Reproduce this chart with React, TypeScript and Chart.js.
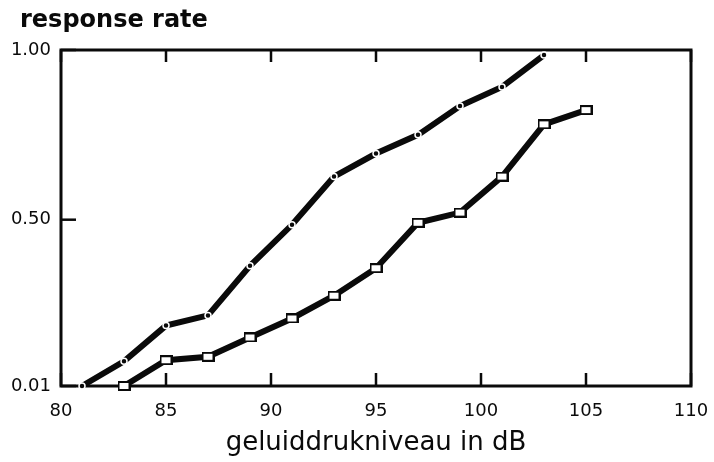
import React, { useEffect, useRef } from "react";
import { Chart, registerables } from "chart.js";

Chart.register(...registerables);

// Series 1 (small dot markers)
const levels1 = [81, 83, 85, 87, 89, 91, 93, 95, 97, 99, 101, 103];
const rates1 = [0.01, 0.083, 0.188, 0.218, 0.364, 0.485, 0.627, 0.695, 0.75, 0.835, 0.891, 0.985];
// Series 2 (open square markers)
const levels2 = [83, 85, 87, 89, 91, 93, 95, 97, 99, 101, 103, 105];
const rates2 = [0.01, 0.086, 0.096, 0.153, 0.209, 0.276, 0.357, 0.491, 0.521, 0.627, 0.781, 0.823];

const xMin = 80;
const xMax = 110;
const xStep = 5;
const yTickValues = [0.01, 0.5, 1.0];
const yTitle = "response rate";
const xTitle = "geluiddrukniveau in dB";

const INK = "#0a0a0a";

function makeSquare(): HTMLCanvasElement {
  const c = document.createElement("canvas");
  c.width = 13;
  c.height = 10;
  const g = c.getContext("2d")!;
  g.fillStyle = INK;
  g.fillRect(0, 0, 13, 10);
  g.fillStyle = "#ffffff";
  g.fillRect(2, 2, 9, 6);
  return c;
}

const framePlugin = {
  id: "frameTicks",
  beforeDatasetsDraw(chart: any) {
    const { ctx, chartArea } = chart;
    const { left, right, top, bottom } = chartArea;
    const xs = chart.scales.x;
    const ys = chart.scales.y;
    ctx.save();
    ctx.strokeStyle = INK;
    ctx.lineWidth = 3;
    ctx.lineCap = "square";
    ctx.strokeRect(left, top, right - left, bottom - top);
    ctx.lineWidth = 2.5;
    ctx.lineCap = "butt";
    xs.ticks.forEach((t: any) => {
      const px = xs.getPixelForValue(t.value);
      ctx.beginPath();
      ctx.moveTo(px, bottom);
      ctx.lineTo(px, bottom - 13);
      ctx.moveTo(px, top);
      ctx.lineTo(px, top + 12);
      ctx.stroke();
    });
    ys.ticks.forEach((t: any) => {
      const py = ys.getPixelForValue(t.value);
      ctx.beginPath();
      ctx.moveTo(left, py);
      ctx.lineTo(left + 15, py);
      ctx.stroke();
    });
    ctx.restore();
  },
};

const yTitlePlugin = {
  id: "yTopTitle",
  afterDraw(chart: any, _args: any, opts: any) {
    const { ctx } = chart;
    ctx.save();
    ctx.fillStyle = INK;
    ctx.font = "bold 24px 'DejaVu Sans'";
    ctx.textAlign = "left";
    ctx.textBaseline = "alphabetic";
    ctx.fillText(opts.text, 20, 27);
    ctx.restore();
  },
};

export default function App() {
  const ref = useRef<HTMLCanvasElement | null>(null);

  useEffect(() => {
    if (!ref.current) return;
    const square = makeSquare();
    const chart = new Chart(ref.current, {
      type: "line",
      data: {
        datasets: [
          {
            label: "A",
            data: levels1.map((x, i) => ({ x, y: rates1[i] })),
            borderColor: INK,
            borderWidth: 6,
            tension: 0,
            pointRadius: 3,
            pointBackgroundColor: INK,
            pointBorderColor: "#ffffff",
            pointBorderWidth: 1.5,
            clip: false as any,
          },
          {
            label: "B",
            data: levels2.map((x, i) => ({ x, y: rates2[i] })),
            borderColor: INK,
            borderWidth: 6,
            tension: 0,
            pointStyle: square as any,
            pointRadius: 6,
            clip: false as any,
          },
        ],
      },
      options: {
        responsive: false,
        animation: false,
        layout: { padding: { left: 0, right: 23, top: 50, bottom: 0 } },
        plugins: {
          legend: { display: false },
          tooltip: { enabled: false },
          title: { display: false },
          yTopTitle: { text: yTitle },
        } as any,
        scales: {
          x: {
            type: "linear",
            min: xMin,
            max: xMax,
            grid: { display: false, drawTicks: false },
            border: { display: false },
            ticks: {
              stepSize: xStep,
              padding: 15,
              color: INK,
              font: { family: "DejaVu Sans", size: 18 },
            },
            title: {
              display: true,
              text: xTitle,
              color: INK,
              font: { family: "DejaVu Sans", size: 26 },
              padding: { top: 0, bottom: 3 },
            },
            afterFit(scale: any) {
              scale.height = 462 - 386;
              scale.paddingLeft = 0;
              scale.paddingRight = 0;
            },
          },
          y: {
            type: "linear",
            min: yTickValues[0],
            max: yTickValues[yTickValues.length - 1],
            grid: { display: false, drawTicks: false },
            border: { display: false },
            afterBuildTicks(scale: any) {
              scale.ticks = yTickValues.map((v) => ({ value: v }));
            },
            ticks: {
              padding: 10,
              color: INK,
              font: { family: "DejaVu Sans", size: 18 },
              callback: (v: any) => Number(v).toFixed(2),
            },
            afterFit(scale: any) {
              scale.width = 61;
              scale.paddingTop = 0;
              scale.paddingBottom = 0;
            },
          },
        },
      },
      plugins: [framePlugin, yTitlePlugin],
    });
    return () => chart.destroy();
  }, []);

  return (
    <div style={{ position: "fixed", left: 0, top: 0, width: 714, height: 462, background: "#fff" }}>
      <canvas ref={ref} width={714} height={462} style={{ display: "block" }} />
    </div>
  );
}
